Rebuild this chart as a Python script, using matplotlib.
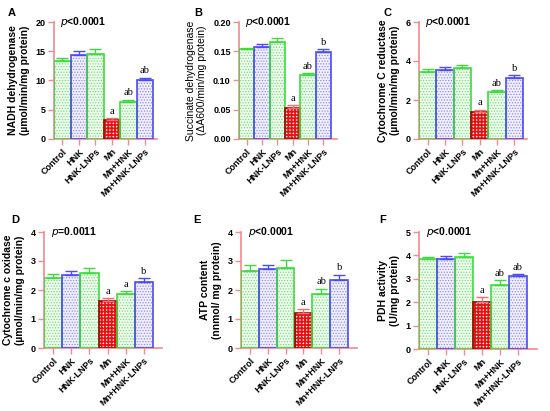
import numpy as np
import matplotlib
matplotlib.use("Agg")
import matplotlib.pyplot as plt

plt.rcParams["font.family"] = ["Liberation Sans", "DejaVu Sans"]

groups = ["Control", "HNK", "HNK-LNPs", "Mn", "Mn+HNK", "Mn+HNK-LNPs"]

nadh = [13.3, 14.3, 14.6, 3.3, 6.4, 10.1]
nadh_err = [0.6, 0.7, 0.7, 0.3, 0.3, 0.4]
nadh_sig = ["", "", "", "a", "ab", "ab"]

sdh = [0.153, 0.158, 0.165, 0.053, 0.110, 0.149]
sdh_err = [0.003, 0.004, 0.007, 0.005, 0.002, 0.004]
sdh_sig = ["", "", "", "a", "ab", "b"]

ccr = [3.45, 3.55, 3.65, 1.40, 2.42, 3.15]
ccr_err = [0.12, 0.12, 0.15, 0.10, 0.10, 0.12]
ccr_sig = ["", "", "", "a", "ab", "b"]

cco = [2.42, 2.52, 2.57, 1.63, 1.87, 2.28]
cco_err = [0.13, 0.13, 0.20, 0.10, 0.10, 0.13]
cco_sig = ["", "", "", "a", "a", "b"]

atp = [2.65, 2.73, 2.77, 1.22, 1.85, 2.33]
atp_err = [0.22, 0.13, 0.25, 0.12, 0.20, 0.20]
atp_sig = ["", "", "", "a", "ab", "b"]

pdh = [3.85, 3.85, 3.95, 2.00, 2.75, 3.12]
pdh_err = [0.07, 0.13, 0.15, 0.22, 0.20, 0.08]
pdh_sig = ["", "", "", "a", "ab", "ab"]

AXIS = "#F28A8E"
GREEN = "#3EDB3E"
BLUE = "#4B4BF5"
RED = "#E81010"
edge_cols = [GREEN, BLUE, GREEN, "#A00000", GREEN, BLUE]
face_cols = ["#F2FFF2", "#F2F0FF", "#F2FFF2", "white", "#F2FFF2", "#F2F0FF"]
hatch_cols = ["#6FDC6F", "#8C8CF0", "#6FDC6F", RED, "#6FDC6F", "#8C8CF0"]
hatches = ["......", "......", "......", "+++++", "......", "......"]
hatch_lw = [0.6, 0.6, 0.6, 1.3, 0.6, 0.6]
err_cols = [GREEN, BLUE, GREEN, "#F07070", GREEN, BLUE]

W, H = 550, 411

# layout per panel, pixels: axis left, axis right, last bar right, top, bottom ; letter position
panels = [
    ("A", nadh, nadh_err, nadh_sig, 20, [0, 5, 10, 15, 20], None,
     "NADH dehydrogenase\n(µmol/min/mg protein)", "<0.0001", True,
     (54, 157, 153, 22, 139), (12, 13)),
    ("B", sdh, sdh_err, sdh_sig, 0.20, [0, 0.05, 0.10, 0.15, 0.20],
     ["0.00", "0.05", "0.10", "0.15", "0.20"],
     "Succinate dehydrogenase\n(ΔA600/min/mg protein)", "<0.0001", False,
     (239, 337, 331, 22, 139), (198, 13)),
    ("C", ccr, ccr_err, ccr_sig, 6, [0, 2, 4, 6], None,
     "Cytochrome C reductase\n(µmol/min/mg protein)", "<0.0001", True,
     (419, 527, 523, 22, 139), (388, 13)),
    ("D", cco, cco_err, cco_sig, 4, [0, 1, 2, 3, 4], None,
     "Cytochrome c oxidase\n(µmol/min/mg protein)", "=0.0011", True,
     (44, 162, 153, 232, 348), (15, 220)),
    ("E", atp, atp_err, atp_sig, 4, [0, 1, 2, 3, 4], None,
     "ATP content\n(nnmol/ mg protein)", "<0.0001", True,
     (241, 357, 348, 232, 348), (197, 220)),
    ("F", pdh, pdh_err, pdh_sig, 5, [0, 1, 2, 3, 4, 5], None,
     "PDH activity\n(U/mg protein)", "<0.0001", True,
     (419, 537, 527, 232, 349), (383, 220)),
]

fig = plt.figure(figsize=(W / 100, H / 100), dpi=100)

for letter, vals, errs, sig, ymax, yt, ytl, ylab, ptxt, bold, box, lxy in panels:
    l, r, bar_end, t, b = box
    ax = fig.add_axes([l / W, 1 - b / H, (r - l) / W, (b - t) / H])
    x = np.arange(len(groups))
    for i in range(len(groups)):
        with plt.rc_context({"hatch.linewidth": hatch_lw[i]}):
            ax.bar(x[i], vals[i], width=1.0, color=face_cols[i], hatch=hatches[i],
                   edgecolor=hatch_cols[i], linewidth=0, zorder=2)
        ax.bar(x[i], vals[i], width=1.0, fill=False, edgecolor=edge_cols[i],
               linewidth=1.2, zorder=3)
        ax.errorbar(x[i], vals[i], yerr=[[0], [errs[i]]], color=err_cols[i],
                    capsize=4.5, elinewidth=1.0, capthick=1.0, zorder=4)
        if sig[i]:
            ax.text(x[i], vals[i] + errs[i] + ymax * 0.02, sig[i], ha="center", va="bottom",
                    fontsize=7.5, family=["Liberation Serif"], zorder=5)
    bar_px = (bar_end - l) / 6
    ax.set_xlim(-0.5, 5.5 + (r - bar_end) / bar_px)
    ax.set_ylim(0, ymax)
    ax.set_yticks(yt)
    if ytl:
        ax.set_yticklabels(ytl)
    ax.set_xticks(x)
    ax.set_xticklabels(groups, rotation=45, ha="right", rotation_mode="anchor",
                       fontsize=6.5, fontweight="bold")
    for lab in ax.get_yticklabels():
        lab.set_fontweight("bold")
        lab.set_fontsize(6.5)
    ax.tick_params(axis="both", colors=AXIS, length=4, width=1.0, labelcolor="black", pad=2)
    for side in ["top", "right"]:
        ax.spines[side].set_visible(False)
    for side in ["left", "bottom"]:
        ax.spines[side].set_color(AXIS)
        ax.spines[side].set_linewidth(1.2)
    ax.set_ylabel(ylab, fontsize=7.5, fontweight="bold" if bold else "normal", labelpad=4,
                  linespacing=1.2)
    ax.text(0.06, 1.0, r"$\it{p}$" + ptxt, transform=ax.transAxes, ha="left", va="center",
            fontsize=7.5, fontweight="bold")
    fig.text(lxy[0] / W, 1 - lxy[1] / H, letter, fontsize=8, fontweight="bold",
             ha="center", va="center")

fig.savefig("out.png", dpi=100)
